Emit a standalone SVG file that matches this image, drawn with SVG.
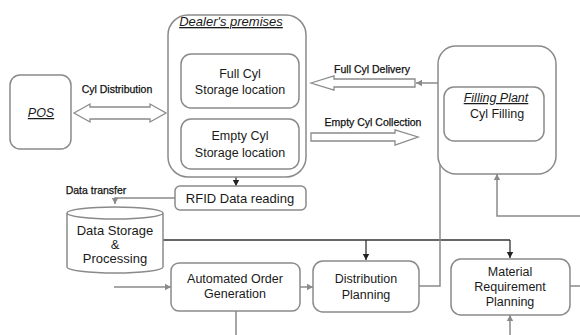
<svg xmlns="http://www.w3.org/2000/svg" width="580" height="335" viewBox="0 0 580 335">
<defs>
<style>
.box{fill:#fff;stroke:#8a8a8a;stroke-width:1.5}
.t{font-family:"Liberation Sans",Arial,sans-serif;font-size:12.5px;fill:#1a1a1a;text-anchor:middle}
.s{font-family:"Liberation Sans",Arial,sans-serif;font-size:10.5px;fill:#111;text-anchor:middle;stroke:#111;stroke-width:0.25}
.it{font-style:italic;text-decoration:underline}
.g{fill:none;stroke:#8a8a8a;stroke-width:1.5}
.d{fill:none;stroke:#333;stroke-width:1.3}
.blk{fill:#fff;stroke:#8a8a8a;stroke-width:1.3}
</style>
<marker id="ag" markerWidth="8" markerHeight="8" refX="6" refY="4" orient="auto" markerUnits="userSpaceOnUse"><path d="M0,0.8 L6,4 L0,7.2 z" fill="#8a8a8a"/></marker>
<marker id="ad" markerWidth="8" markerHeight="8" refX="6" refY="4" orient="auto" markerUnits="userSpaceOnUse"><path d="M0,0.8 L6,4 L0,7.2 z" fill="#222"/></marker>
</defs>

<g id="connectors">
<path class="d" d="M236,170 V186" marker-end="url(#ad)"/>
<path class="g" d="M175,198 H115 V204" marker-end="url(#ag)"/>
<path class="d" d="M163,240 H510"/>
<path class="d" d="M366,240 V260" marker-end="url(#ad)"/>
<path class="d" d="M510,240 V258" marker-end="url(#ad)"/>
<path class="g" d="M114,287 H171" marker-end="url(#ag)"/>
<path class="g" d="M236,311 V335"/>
<path class="g" d="M300,287 H313" marker-end="url(#ag)"/>
<path class="g" d="M419,286 H440 V83 H416" marker-end="url(#ag)"/>
<path class="g" d="M580,216 H497 V174" marker-end="url(#ag)"/>
<path class="g" d="M570,286 H580"/>
<path class="g" d="M510,335 V315" marker-end="url(#ag)"/>
<polygon class="blk" points="74,113 90,104 90,107 150,107 150,104 166,113 150,122 150,119 90,119 90,122"/>
<polygon class="blk" points="311,83 334,76 334,79 415,79 415,87 334,87 334,90"/>
<polygon class="blk" points="311,133 395,133 395,130 418,137 395,145 395,141 311,141"/>
<text class="s" x="117" y="93">Cyl Distribution</text>
<text class="s" x="372" y="73">Full Cyl Delivery</text>
<text class="s" x="373" y="126">Empty Cyl Collection</text>
<text class="s" x="96" y="194">Data transfer</text>
</g>

<g id="pos">
<rect class="box" x="10" y="75" width="61" height="74" rx="10"/>
<text class="t it" x="41" y="117">POS</text>
</g>

<g id="dealer">
<rect class="box" x="168" y="15" width="138" height="162" rx="20"/>
<text class="t it" x="231" y="26" style="font-size:13px">Dealer's premises</text>
</g>

<g id="full-cyl">
<rect class="box" x="181" y="54" width="118" height="54" rx="10"/>
<text class="t" x="240" y="78">Full Cyl</text>
<text class="t" x="240" y="94">Storage location</text>
</g>

<g id="empty-cyl">
<rect class="box" x="181" y="119" width="118" height="50" rx="10"/>
<text class="t" x="240" y="140">Empty Cyl</text>
<text class="t" x="240" y="157">Storage location</text>
</g>

<g id="rfid">
<rect class="box" x="175" y="186" width="131" height="24" rx="5"/>
<text class="t" x="240" y="203" style="font-size:13px">RFID Data reading</text>
</g>

<g id="data-storage">
<path class="box" d="M67,213 V267 A48,6 0 0 0 163,267 V213 A48,6 0 0 0 67,213 A48,6 0 0 0 163,213"/>
<text class="t" x="115" y="235" style="font-size:13px">Data Storage</text>
<text class="t" x="115" y="249" style="font-size:13px">&amp;</text>
<text class="t" x="115" y="263" style="font-size:13px">Processing</text>
</g>

<g id="filling-plant">
<rect class="box" x="438" y="46" width="118" height="128" rx="18"/>
<rect class="box" x="444" y="87" width="100" height="54" rx="10"/>
<text class="t it" x="496" y="102">Filling Plant</text>
<text class="t" x="497" y="118">Cyl Filling</text>
</g>

<g id="aog">
<rect class="box" x="171" y="263" width="129" height="48" rx="8"/>
<text class="t" x="235" y="283">Automated Order</text>
<text class="t" x="235" y="298">Generation</text>
</g>

<g id="dist-planning">
<rect class="box" x="313" y="261" width="106" height="51" rx="10"/>
<text class="t" x="366" y="283">Distribution</text>
<text class="t" x="366" y="299">Planning</text>
</g>

<g id="mrp">
<rect class="box" x="451" y="259" width="119" height="56" rx="10"/>
<text class="t" x="510" y="276">Material</text>
<text class="t" x="510" y="291">Requirement</text>
<text class="t" x="510" y="306">Planning</text>
</g>
</svg>
